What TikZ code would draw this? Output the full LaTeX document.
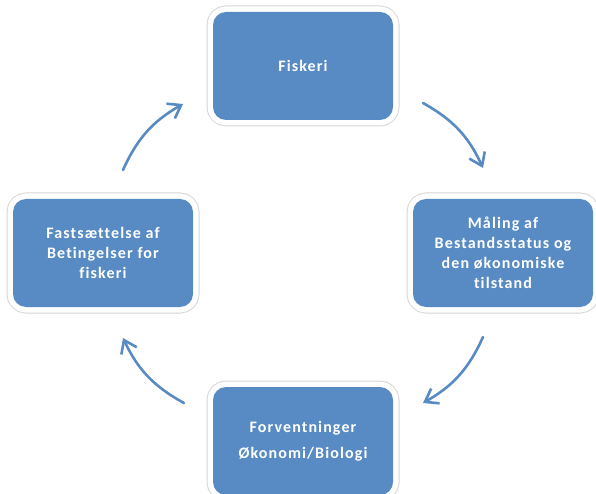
\documentclass[tikz,border=0pt]{standalone}
\usepackage{fontspec}
\newfontfamily\boxfont[LetterSpace=7,Ligatures=NoCommon]{Carlito}
\usetikzlibrary{arrows.meta}
\definecolor{boxblue}{RGB}{88,139,196}
\definecolor{rimgray}{RGB}{214,214,214}
\begin{document}
\begin{tikzpicture}[x=1pt,y=1pt,
  stagebox/.style={fill=boxblue, rounded corners=13pt,
    minimum width=180pt, minimum height=108pt, inner sep=4pt,
    preaction={draw=rimgray, line width=13pt},
    preaction={draw=white, line width=11pt},
    text=white, align=center,
    font=\boxfont\bfseries\fontsize{16}{20}\selectfont},
  cyclearrow/.style={draw=boxblue, line width=2.6pt, line cap=round,
    -{Straight Barb[length=12pt,width=17pt,line width=2.6pt]}}]
\useasboundingbox (0,0) rectangle (596,493);
\node[stagebox] (fisk) at (303,427) {Fiskeri};
\node[stagebox] (maal) at (503,240) {Måling af\\Bestandsstatus og\\den økonomiske\\tilstand};
\node[stagebox] (forv) at (303,52) {Forventninger\\[6pt]Økonomi/Biologi};
\node[stagebox] (fast) at (103,240) {Fastsættelse af\\Betingelser for\\fiskeri};
\coordinate (a1s) at (123,323); \coordinate (a1e) at (183,389);
\coordinate (a2s) at (423,390); \coordinate (a2e) at (483,325);
\coordinate (a3s) at (483,156); \coordinate (a3e) at (423,90);
\coordinate (a4s) at (184,90);  \coordinate (a4e) at (123,155);
\draw[cyclearrow] (a1s) to[bend left=18] (a1e);
\draw[cyclearrow] (a2s) to[bend left=18] (a2e);
\draw[cyclearrow] (a3s) to[bend left=18] (a3e);
\draw[cyclearrow] (a4s) to[bend left=18] (a4e);
\end{tikzpicture}
\end{document}
